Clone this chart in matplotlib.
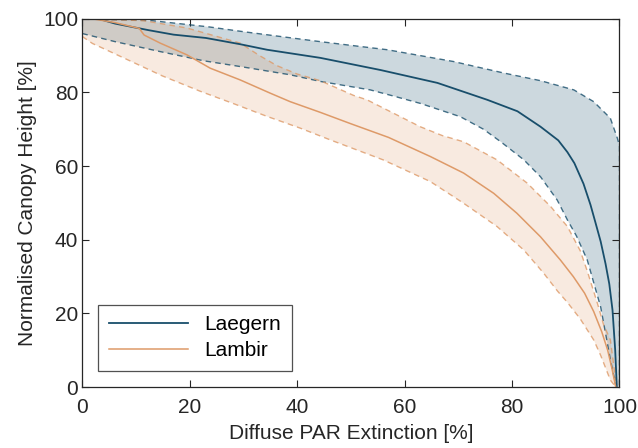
import numpy as np
import matplotlib
matplotlib.use('Agg')
import matplotlib.pyplot as plt

plt.rcParams['font.family'] = ['Liberation Sans', 'DejaVu Sans']

# Laegern: mean and envelope (x = extinction %, y = normalised height %)
laeg_mean_x = [3, 6.1, 12.4, 17, 23, 29.4, 34.4, 44.3, 55.5, 66.1, 75.4, 81, 85.3, 88.6, 90.3, 91.6, 93.3, 94.6, 95.5, 96.5, 97.4, 98.1, 98.7, 99.2, 99.5]
laeg_mean_y = [100, 98.7, 96.9, 95.7, 94.8, 93.1, 91.6, 89.4, 86.1, 82.6, 78, 74.9, 70.7, 67, 63.8, 60.8, 55.2, 49.5, 44.8, 39.5, 33.5, 28, 20.9, 10, 0]
laeg_up_x = [0, 13, 23.6, 30, 44.3, 56.8, 69.1, 78.4, 85.3, 91.5, 95.2, 98.3, 99.6, 100, 100]
laeg_up_y = [100, 99.5, 97.8, 96.5, 93.8, 91.6, 88.4, 85.3, 83.2, 80.7, 77.5, 73, 67.6, 65.5, 0]
laeg_lo_x = [0, 6.1, 14.5, 22.6, 30, 38.7, 44.3, 53.6, 58, 63, 70.4, 74.7, 78, 82.2, 85.3, 88.4, 90.3, 92, 94, 96.5, 98.3, 99.3]
laeg_lo_y = [96, 93.8, 91.1, 88.6, 86.9, 84.8, 83, 80.7, 79, 77, 73.4, 70, 66.5, 61.7, 57.1, 50.8, 45.4, 41, 34.5, 21.7, 7.5, 0.5]

# Lambir: mean and envelope
lamb_mean_x = [1.9, 6, 10.6, 11.5, 14.5, 19.5, 23.8, 29.4, 35, 38.7, 44.3, 50, 57, 64.8, 71, 76.6, 80.9, 85.3, 89, 91.4, 93.5, 95.2, 96.7, 97.8, 98.6, 99.3]
lamb_mean_y = [100, 99, 97.4, 95.6, 93.4, 90.2, 86.6, 83.4, 79.8, 77.5, 74.6, 71.5, 67.8, 62.6, 58.1, 52.6, 47.2, 40.8, 34.5, 30, 25.5, 20.5, 15, 10, 5, 0]
lamb_up_x = [0, 11.4, 19.5, 29.4, 33, 36.2, 40, 44.3, 50.5, 53, 62.9, 67, 71, 77.2, 82.8, 87.2, 90.3, 92.7, 94, 95.9, 97, 98.3, 98.9, 99.3, 99.9]
lamb_up_y = [100, 99.5, 97.5, 93.4, 90, 87.3, 85, 83.2, 79.2, 78, 70.7, 68.3, 66.6, 61.7, 55.4, 49, 43.6, 37, 31.5, 22.7, 17.1, 12.8, 6.2, 1.9, 0.5]
lamb_lo_x = [0, 1.9, 3.4, 9.3, 14.9, 22, 28.1, 34.4, 40.6, 46.2, 56, 64.8, 71, 77.2, 82.2, 85.9, 88.5, 90.3, 92.7, 95.2, 96.5, 98.3, 99.3]
lamb_lo_y = [95.2, 93.3, 92.3, 88.3, 84.5, 80.3, 77, 73.5, 70.3, 67.1, 61.7, 55.8, 49.9, 43.6, 37.2, 30.9, 26, 23, 18.5, 12.8, 8.6, 1.9, 0]

c_laeg = '#184E6B'
c_lamb = '#DE9A68'

fig, ax = plt.subplots(figsize=(6.38, 4.48), dpi=100)
fig.subplots_adjust(left=0.129, right=0.971, top=0.958, bottom=0.136)

ax.fill(laeg_up_x + laeg_lo_x[::-1] + [0], laeg_up_y + laeg_lo_y[::-1] + [100],
        color=c_laeg, alpha=0.22, lw=0)
ax.fill(lamb_up_x + lamb_lo_x[::-1] + [0], lamb_up_y + lamb_lo_y[::-1] + [100],
        color=c_lamb, alpha=0.2, lw=0)

dash = (0, (4, 3))
ax.plot(laeg_up_x, laeg_up_y, color=c_laeg, lw=1.0, ls=dash, alpha=0.8)
ax.plot(laeg_lo_x, laeg_lo_y, color=c_laeg, lw=1.0, ls=dash, alpha=0.8)
ax.plot(lamb_up_x, lamb_up_y, color=c_lamb, lw=1.0, ls=dash, alpha=0.8)
ax.plot(lamb_lo_x, lamb_lo_y, color=c_lamb, lw=1.0, ls=dash, alpha=0.8)
ax.plot(laeg_mean_x, laeg_mean_y, color=c_laeg, lw=1.3, label='Laegern')
ax.plot(lamb_mean_x, lamb_mean_y, color=c_lamb, lw=1.1, label='Lambir')

ax.set_xlim(0, 100)
ax.set_ylim(0, 100)
ax.set_xticks(np.arange(0, 101, 20))
ax.set_yticks(np.arange(0, 101, 20))
ax.tick_params(direction='in', length=5, width=0.8, top=True, right=True,
               labelsize=15, colors='#262626')
ax.tick_params(axis='x', pad=8)
ax.tick_params(axis='y', pad=3)
for s in ax.spines.values():
    s.set_color('#262626')
    s.set_linewidth(0.9)

ax.set_xlabel('Diffuse PAR Extinction [%]', fontsize=15, color='#262626', labelpad=5)
ax.set_ylabel('Normalised Canopy Height [%]', fontsize=15, color='#262626', labelpad=4)

leg = ax.legend(loc='lower left', bbox_to_anchor=(0.03, 0.044), fontsize=15,
                handlelength=3.8, frameon=True, fancybox=False, borderaxespad=0,
                labelspacing=0.35, borderpad=0.5)
leg.get_frame().set_edgecolor('#262626')
leg.get_frame().set_linewidth(0.9)

fig.savefig('out.png', dpi=100)
